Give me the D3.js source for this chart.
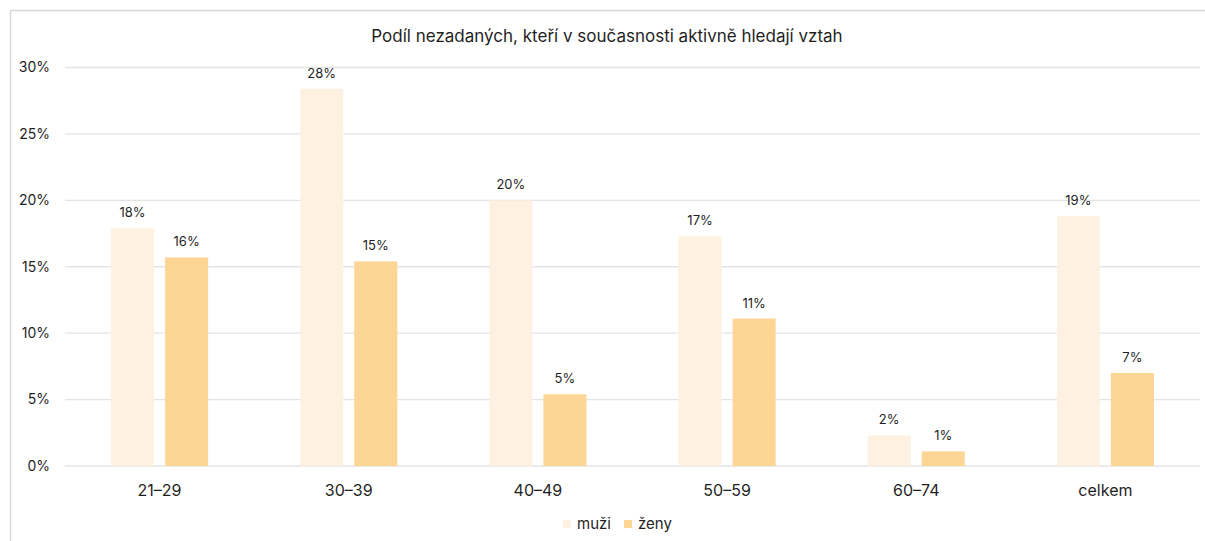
<!DOCTYPE html>
<html lang="cs">
<head>
<meta charset="utf-8">
<script src="https://d3js.org/d3.v7.min.js"></script>
<style>
  body { margin: 0; background: white; }
  svg { font-family: 'Inter', 'Roboto', sans-serif; }
  .grid line { stroke: #e4e4e4; stroke-width: 1.3px; }
  .axis text { fill: #1f1f1f; }
</style>
</head>
<body>
<svg width="1205" height="541"></svg>
<script>
  // data
  const categories = ["21–29", "30–39", "40–49", "50–59", "60–74", "celkem"];
  const series = ["muži", "ženy"];
  const muzi = [17.9, 28.4, 20.0, 17.3, 2.3, 18.8];
  const zeny = [15.7, 15.4, 5.4, 11.1, 1.1, 7.0];
  const yTicks = [0, 5, 10, 15, 20, 25, 30];

  const colors = { "muži": "#fef1e1", "ženy": "#fdd595" };

  const width = 1205, height = 541;
  const plot = { left: 65, right: 1200, top: 67.5, bottom: 466 };

  const svg = d3.select("svg");

  // chart frame (top + left edges visible)
  svg.append("line").attr("x1", 10.5).attr("x2", width).attr("y1", 10.5).attr("y2", 10.5)
    .attr("stroke", "#d6d6d6").attr("stroke-width", 1.3);
  svg.append("line").attr("x1", 10.5).attr("x2", 10.5).attr("y1", 10.5).attr("y2", height)
    .attr("stroke", "#d6d6d6").attr("stroke-width", 1.3);

  const x0 = d3.scaleBand().domain(categories).range([plot.left, plot.right])
    .paddingInner(0.487).paddingOuter(0.2435);
  const x1 = d3.scaleBand().domain(series).range([0, x0.bandwidth()])
    .paddingInner(0.204).paddingOuter(0);
  const y = d3.scaleLinear().domain([0, 30]).range([plot.bottom, plot.top]);

  // gridlines
  svg.append("g").attr("class", "grid")
    .selectAll("line").data(yTicks).join("line")
    .attr("x1", plot.left).attr("x2", plot.right)
    .attr("y1", d => y(d)).attr("y2", d => y(d));

  // y axis labels
  svg.append("g").attr("class", "axis")
    .selectAll("text").data(yTicks).join("text")
    .attr("x", 50).attr("y", d => y(d))
    .attr("dy", "0.35em").attr("text-anchor", "end")
    .attr("font-size", 14).text(d => d + "%");

  // x axis labels
  svg.append("g").attr("class", "axis")
    .selectAll("text").data(categories).join("text")
    .attr("x", d => x0(d) + x0.bandwidth() / 2).attr("y", 496)
    .attr("text-anchor", "middle").attr("font-size", 16).text(d => d);

  const rows = categories.map((c, i) => ({ cat: c, values: [
    { key: "muži", value: muzi[i] }, { key: "ženy", value: zeny[i] }
  ] }));

  const groups = svg.append("g").selectAll("g").data(rows).join("g")
    .attr("transform", d => "translate(" + x0(d.cat) + ",0)");

  groups.selectAll("rect").data(d => d.values).join("rect")
    .attr("x", d => x1(d.key)).attr("width", x1.bandwidth())
    .attr("y", d => y(d.value)).attr("height", d => y(0) - y(d.value))
    .attr("fill", d => colors[d.key]);

  groups.selectAll("text").data(d => d.values).join("text")
    .attr("x", d => x1(d.key) + x1.bandwidth() / 2)
    .attr("y", d => y(d.value) - 11)
    .attr("text-anchor", "middle").attr("font-size", 13).attr("fill", "#1f1f1f")
    .text(d => Math.round(d.value) + "%");

  // title
  svg.append("text").attr("x", 607).attr("y", 42).attr("text-anchor", "middle")
    .attr("font-size", 17).attr("fill", "#1f1f1f")
    .text("Podíl nezadaných, kteří v současnosti aktivně hledají vztah");

  // legend
  const legendPos = [563, 624];
  const legend = svg.append("g").selectAll("g").data(series).join("g")
    .attr("transform", (d, i) => "translate(" + legendPos[i] + ",520)");
  legend.append("rect").attr("width", 8).attr("height", 8).attr("fill", d => colors[d]);
  legend.append("text").attr("x", 14).attr("y", 4).attr("dy", "0.35em")
    .attr("font-size", 15).attr("fill", "#1f1f1f").text(d => d);
</script>
</body>
</html>
